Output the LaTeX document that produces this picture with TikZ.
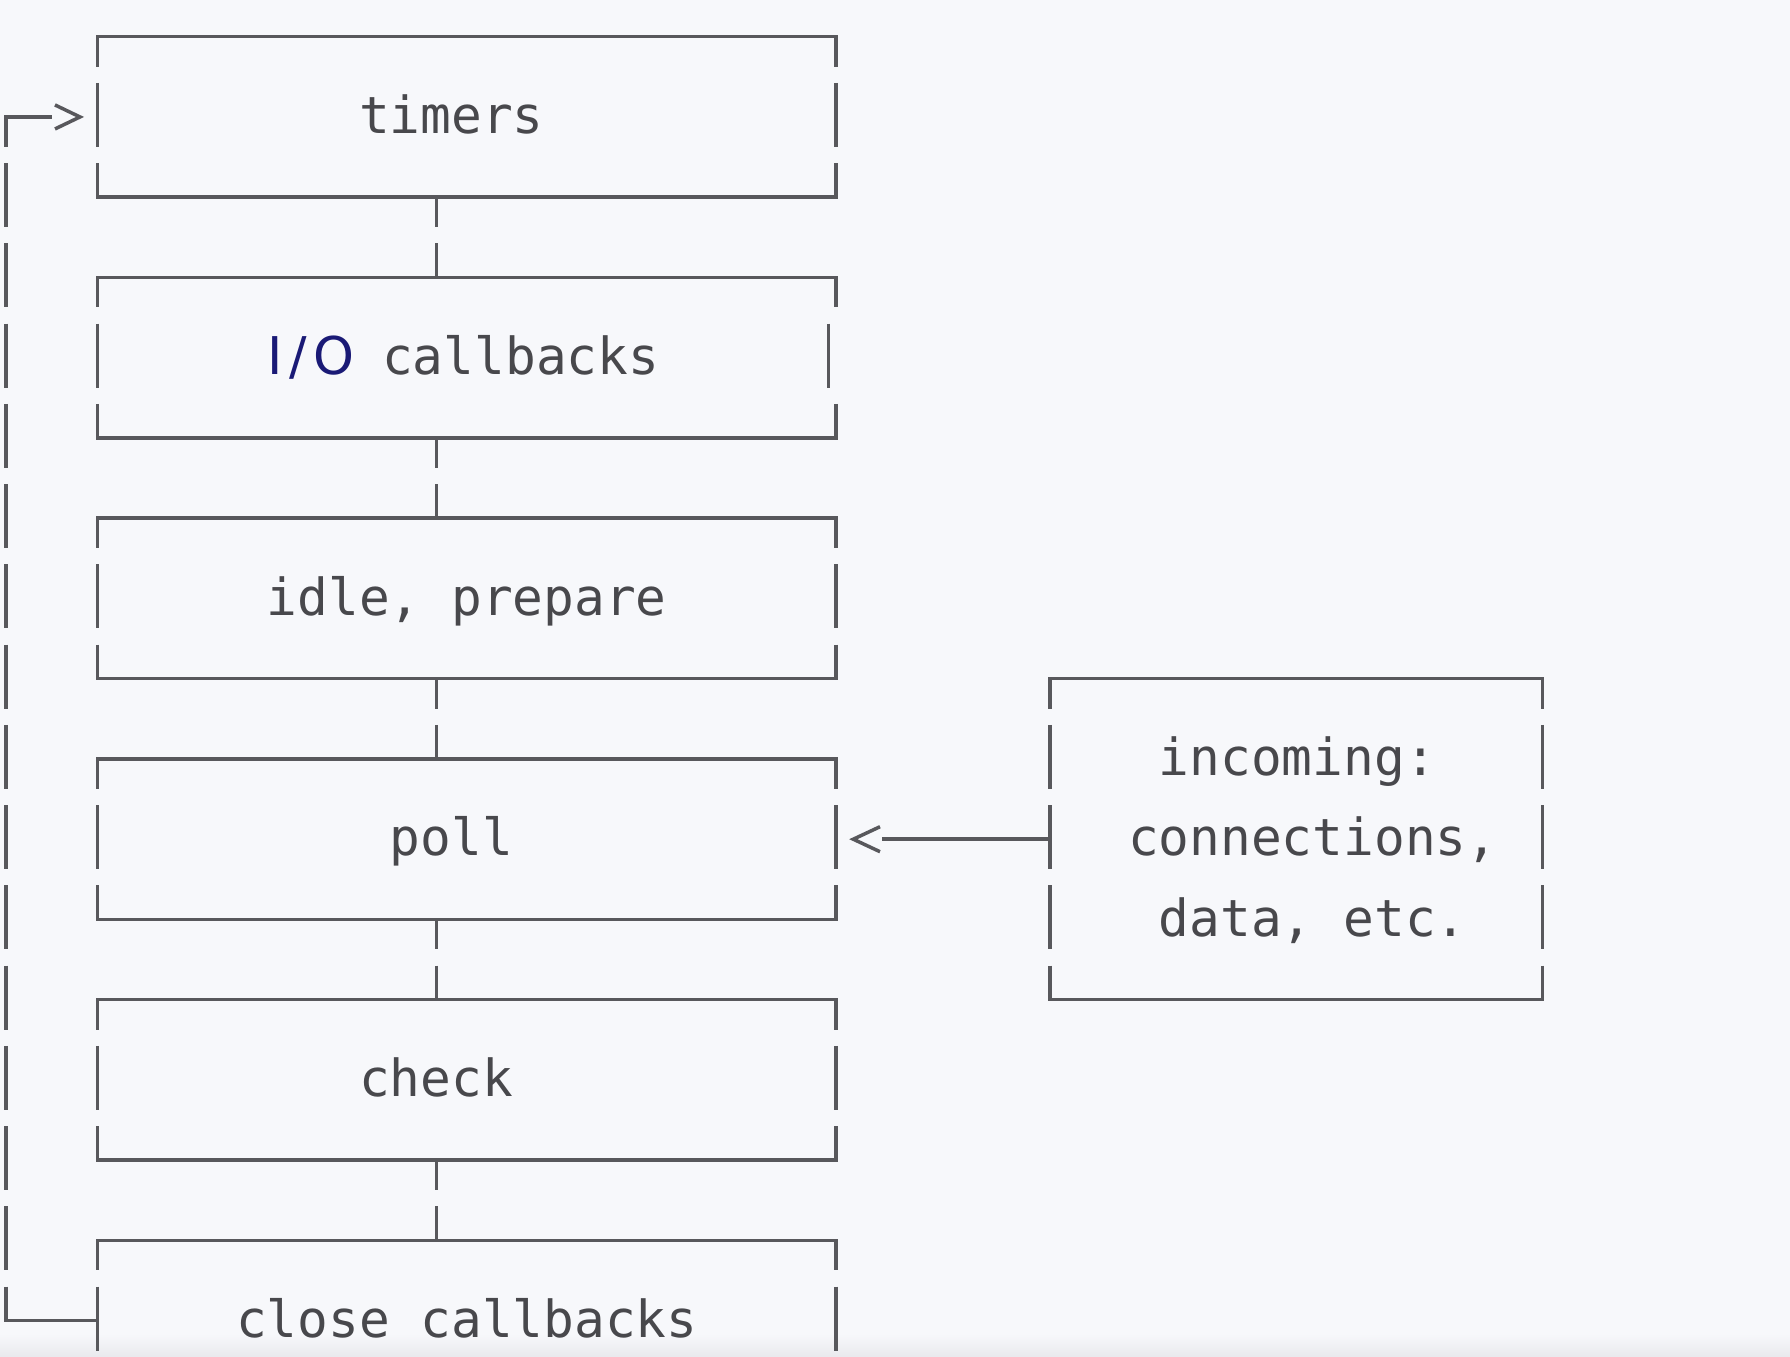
\documentclass[tikz,border=0pt]{standalone}
\usepackage{fontspec}
\setmonofont{DejaVu Sans Mono}
\newfontfamily\iofont{DejaVu Sans}
\definecolor{bg}{RGB}{247,248,251}
\definecolor{bgdark}{RGB}{233,233,237}
\definecolor{ln}{RGB}{88,88,92}
\definecolor{tx}{RGB}{72,72,76}
\definecolor{iocol}{RGB}{26,26,118}
\newcommand\frameit[1]{%
  \draw[hline] (#1.north west) -- (#1.north east);
  \draw[hline] (#1.south west) -- (#1.south east);
  \draw[vline] (#1.north west) -- (#1.south west);
  \draw[vline] (#1.north east) -- (#1.south east);}
\begin{document}
\begin{tikzpicture}[x=0.5pt,y=-0.5pt,
  frame/.style={draw=none, inner sep=0pt, outer sep=0pt, minimum width=369.15pt, minimum height=80.25pt},
  hline/.style={draw=ln, line width=1.75pt, line cap=rect},
  vline/.style={draw=ln, line width=1.75pt, dash pattern=on 32pt off 8.125pt, dash phase=17pt},
  tipline/.style={draw=ln, line width=1.75pt, line join=miter},
  lbl/.style={inner sep=0pt, outer sep=0pt, anchor=base, text=tx, font=\ttfamily\fontsize{25.55pt}{30pt}\selectfont},
]
\useasboundingbox (0,0) rectangle (1790,1356);
\fill[bg] (0,0) rectangle (1790,1356);
\shade[top color=bg, bottom color=bgdark] (0,1334) rectangle (1790,1357);
\clip (0,0) rectangle (1790,1356);

% boxes
\node[frame] (timers) at (466.85,116.95) {};
\node[frame] (io)     at (466.85,357.7) {};
\node[frame] (idle)   at (466.85,598.45) {};
\node[frame] (poll)   at (466.85,839.2) {};
\node[frame] (check)  at (466.85,1079.95) {};
\node[frame] (close)  at (466.85,1320.7) {};
\node[frame, minimum width=246.25pt, minimum height=160.5pt] (incoming) at (1296.25,839.2) {};

% labels
\node[lbl] (ttimers) at (451.44,133.55) {timers};
\node[lbl, anchor=base east, text=iocol, font=\iofont\fontsize{26pt}{30pt}\selectfont] (tio) at (354,374.3) {I\kern3.2pt/\kern3.2pt O};
\node[lbl, anchor=base west] (tcallbacks) at (382.2,374.3) {callbacks};
\node[lbl] (tidle) at (466.82,615.05) {idle, prepare};
\node[lbl] (tpoll) at (451.44,855.8) {poll};
\node[lbl] (tcheck) at (436.06,1096.55) {check};
\node[lbl] (tclose) at (466.82,1337.3) {close callbacks};
\node[lbl] (tinc1) at (1297.34,775.55) {incoming:};
\node[lbl] (tinc2) at (1312.72,855.8) {connections,};
\node[lbl] (tinc3) at (1312.72,936.05) {data, etc.};

% frames
\frameit{timers}
\frameit{idle}
\frameit{poll}
\frameit{check}
\frameit{close}
\frameit{incoming}
% I/O box with shifted middle piece on the right
\draw[hline] (io.north west) -- (io.north east);
\draw[hline] (io.south west) -- (io.south east);
\draw[vline] (io.north west) -- (io.south west);
\draw[ln, line width=1.75pt] (io.north east) -- ([yshift=-15pt]io.north east);
\draw[ln, line width=1.75pt] ([xshift=-3.85pt,yshift=-23.125pt]io.north east) -- ([xshift=-3.85pt,yshift=-55.125pt]io.north east);
\draw[ln, line width=1.75pt] ([yshift=17pt]io.south east) -- (io.south east);

% connectors between phases
\draw[vline] ([xshift=-15.075pt]timers.south) -- ([xshift=-15.075pt]io.north);
\draw[vline] ([xshift=-15.075pt]io.south) -- ([xshift=-15.075pt]idle.north);
\draw[vline] ([xshift=-15.075pt]idle.south) -- ([xshift=-15.075pt]poll.north);
\draw[vline] ([xshift=-15.075pt]poll.south) -- ([xshift=-15.075pt]check.north);
\draw[vline] ([xshift=-15.075pt]check.south) -- ([xshift=-15.075pt]close.north);

% loop back from close callbacks to timers
\coordinate (looptop) at (6,116.95);
\coordinate (loopbot) at (looptop |- close.west);
\draw[vline] (looptop) -- (loopbot);
\draw[hline] (loopbot) -- (close.west);
\draw[hline] (looptop) -- ([xshift=-23.85pt]timers.west);
\draw[tipline] ([xshift=-21.35pt,yshift=6pt]timers.west) -- ([xshift=-8.85pt]timers.west) -- ([xshift=-21.35pt,yshift=-6pt]timers.west);

% incoming -> poll
\draw[hline] (incoming.west) -- ([xshift=23.7pt]poll.east);
\draw[tipline] ([xshift=22pt,yshift=6.25pt]poll.east) -- ([xshift=8.65pt]poll.east) -- ([xshift=22pt,yshift=-6.25pt]poll.east);
\end{tikzpicture}
\end{document}
